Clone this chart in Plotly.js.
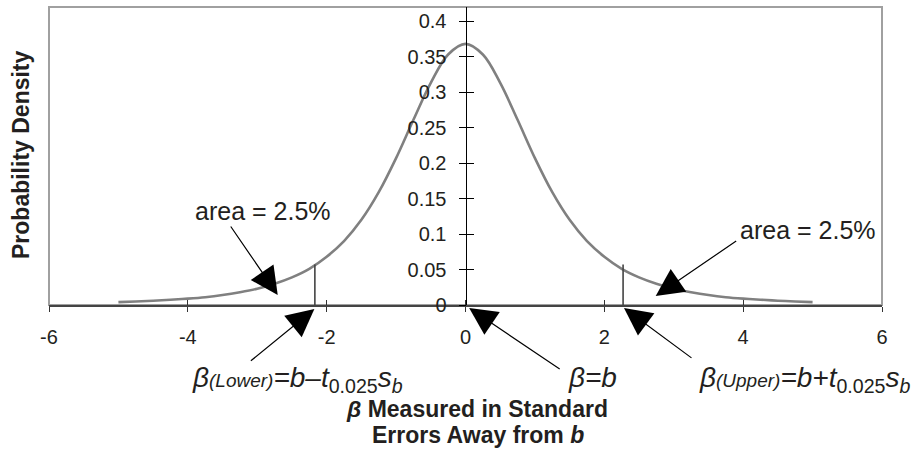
<!DOCTYPE html>
<html>
<head>
<meta charset="utf-8">
<script src="https://cdn.plot.ly/plotly-3.0.1.min.js"></script>
<style>html,body{margin:0;padding:0;background:#fff}#chart{width:913px;height:451px}</style>
</head>
<body>
<div id="chart"></div>
<script>
// Curve (probability density vs. standard errors from b)
const curveX = [-5,-4.75,-4.5,-4.25,-4,-3.75,-3.5,-3.25,-3,-2.75,-2.5,-2.25,-2,-1.75,-1.5,-1.25,-1,-0.75,-0.5,-0.25,0,
                0.25,0.5,0.75,1,1.25,1.5,1.75,2,2.25,2.5,2.75,3,3.25,3.5,3.75,4,4.25,4.5,4.75,5];
const curveY = [0.004,0.005,0.006,0.0075,0.009,0.011,0.014,0.018,0.023,0.030,0.039,0.051,0.068,0.090,0.120,0.159,0.207,0.261,0.313,0.353,0.368,
                0.353,0.313,0.261,0.207,0.159,0.120,0.090,0.068,0.051,0.039,0.030,0.023,0.018,0.014,0.011,0.009,0.0075,0.006,0.005,0.004];
// Critical value markers
const critX = [-2.17, 2.27];
const critY = [0.057, 0.057];
// Ticks
const xTicks = [-6,-4,-2,0,2,4,6];
const xTickText = ['-6','-4','-2','0','2','4','6'];
const yTicks = [0,0.05,0.1,0.15,0.2,0.25,0.3,0.35,0.4];
const yTickText = ['0','0.05','0.1','0.15','0.2','0.25','0.3','0.35','0.4'];

const FONT = 'Liberation Sans, Arial, Helvetica, sans-serif';
const TXT = '#231f20';

const critLineX = [], critLineY = [];
critX.forEach((v,i) => { critLineX.push(v, v, null); critLineY.push(0, critY[i], null); });

const traces = [
  {x: curveX, y: curveY, mode: 'lines', line: {color: '#808080', width: 2.6, shape: 'spline'}, hoverinfo: 'skip', showlegend: false},
  {x: critLineX, y: critLineY, mode: 'lines', line: {color: '#444', width: 1.6}, hoverinfo: 'skip', showlegend: false},
  {x: curveX, y: curveY, xaxis: 'x2', yaxis: 'y2', mode: 'lines', line: {width: 0}, opacity: 0, hoverinfo: 'skip', showlegend: false}
];

const px = p => (p - 49) / 833;
const py = p => (305 - p) / 298;

const arrowBase = {text: '', showarrow: true, arrowhead: 2, arrowsize: 4.6, arrowwidth: 1.2, arrowcolor: '#000', standoff: 0, xref: 'x', yref: 'paper'};
const lbl = (text, x, y, size, extra) => Object.assign({text: text, xref: 'paper', yref: 'paper', x: px(x), y: py(y),
  xanchor: 'center', yanchor: 'middle', showarrow: false, font: {family: FONT, size: size, color: TXT}}, extra || {});

const small = s => '<span style="font-size:19px">' + s + '</span>';

const annotations = [
  // axis titles
  lbl('Probability Density', 21, 155, 23, {textangle: -90, font: {family: FONT, size: 23, color: TXT, weight: 'bold'}}),
  lbl('<i>β</i> Measured in Standard', 477, 409, 23, {borderpad: 0, font: {family: FONT, size: 23, color: TXT, weight: 'bold'}}),
  lbl('Errors Away from <i>b</i>', 478, 435, 23, {borderpad: 0, font: {family: FONT, size: 23, color: TXT, weight: 'bold'}}),
  // area labels
  lbl('area = 2.5%', 193, 211, 25, {xanchor: 'left'}),
  lbl('area = 2.5%', 738, 230, 25, {xanchor: 'left'}),
  // beta labels
  lbl('<i>β' + small('(Lower)') + '=b–t</i><sub>0.025</sub><i>s<sub>b</sub></i>', 190, 379, 28, {xanchor: 'left'}),
  lbl('<i>β=b</i>', 566, 377, 28, {xanchor: 'left'}),
  lbl('<i>β' + small('(Upper)') + '=b+t</i><sub>0.025</sub><i>s<sub>b</sub></i>', 697, 379, 28, {xanchor: 'left'}),
  // arrows
  Object.assign({}, arrowBase, {x: -2.705, y: py(295), ax: -48, ay: -70}),
  Object.assign({}, arrowBase, {x: 2.74, y: py(296), ax: 82, ay: -56}),
  Object.assign({}, arrowBase, {x: -2.177, y: py(309), ax: -65, ay: 53}),
  Object.assign({}, arrowBase, {x: 0.053, y: py(308), ax: 92, ay: 62}),
  Object.assign({}, arrowBase, {x: 2.283, y: py(308), ax: 69, ay: 51})
];

const layout = {
  width: 913, height: 451,
  margin: {l: 49, r: 31, t: 7, b: 146},
  paper_bgcolor: '#fff', plot_bgcolor: '#fff',
  font: {family: FONT, color: TXT},
  showlegend: false,
  xaxis: {range: [-6, 6], tickvals: xTicks, ticktext: xTickText, ticks: 'outside', ticklen: 5, tickwidth: 1, tickcolor: '#333',
          showline: true, linecolor: '#444', linewidth: 2, showgrid: false, zeroline: false,
          tickfont: {family: FONT, size: 20, color: TXT}, ticklabelstandoff: 8, fixedrange: true},
  xaxis2: {range: [-6, 6], overlaying: 'x', anchor: 'y2', tickvals: xTicks, ticks: 'inside', ticklen: 5, tickwidth: 1,
           tickcolor: '#333', showticklabels: false, showline: false, showgrid: false, zeroline: false, fixedrange: true},
  yaxis: {range: [0, 0.42], anchor: 'free', position: 0.5, tickvals: yTicks, ticktext: yTickText,
          ticks: 'outside', ticklen: 7, tickwidth: 1, tickcolor: '#000', showline: true, linecolor: '#000', linewidth: 1.5,
          showgrid: false, zeroline: false, tickfont: {family: FONT, size: 20, color: TXT}, ticklabelstandoff: 8, fixedrange: true},
  yaxis2: {range: [0, 0.42], overlaying: 'y', anchor: 'free', position: 0.5, tickvals: yTicks, ticks: 'inside', ticklen: 7,
           tickwidth: 1, tickcolor: '#000', showticklabels: false, showline: false, showgrid: false, zeroline: false, fixedrange: true},
  shapes: [{type: 'rect', xref: 'paper', yref: 'paper', x0: 0, x1: 1, y0: 0, y1: 1, line: {color: '#a0a0a0', width: 2}, layer: 'below'}],
  annotations: annotations
};

Plotly.newPlot('chart', traces, layout, {staticPlot: true, displayModeBar: false});
</script>
</body>
</html>
